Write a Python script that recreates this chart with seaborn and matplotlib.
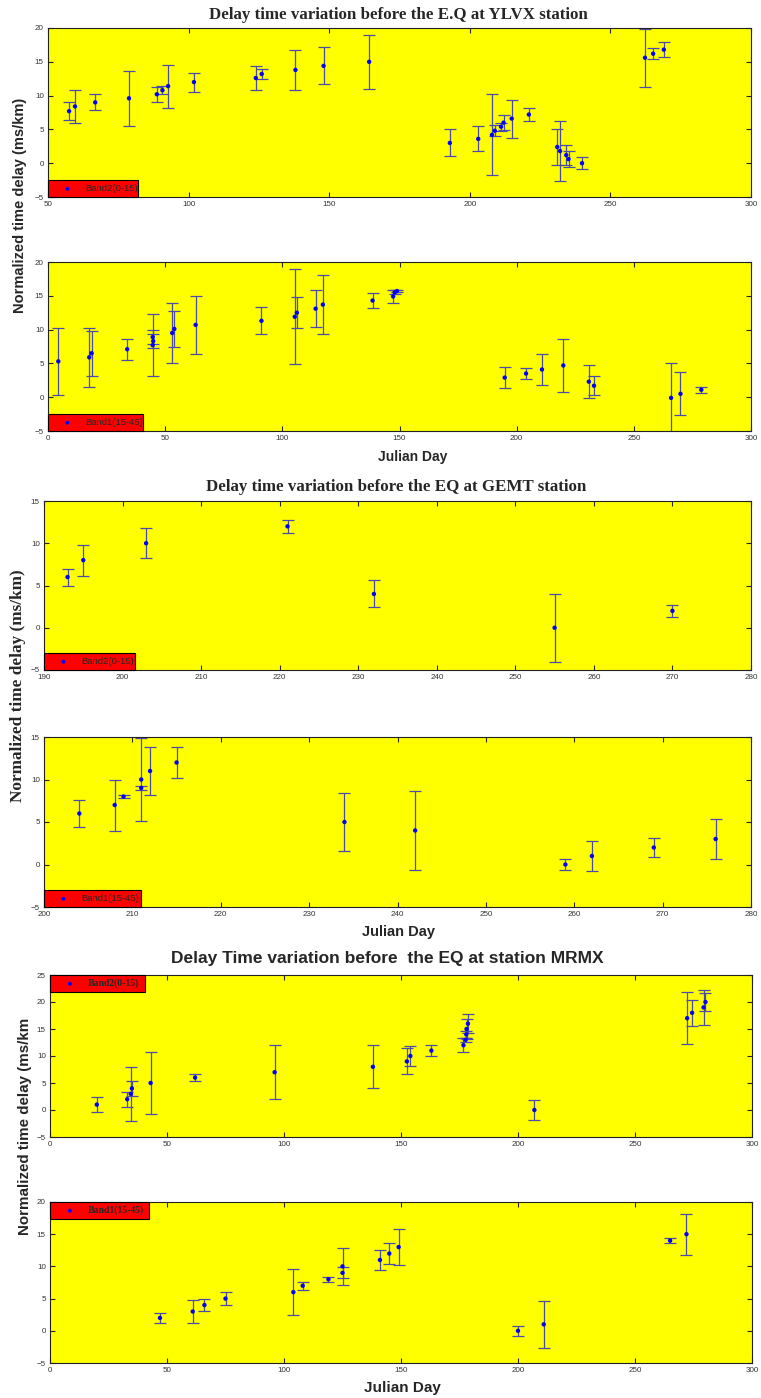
import matplotlib
matplotlib.use("Agg")
import matplotlib.pyplot as plt
import seaborn as sns

# YLVX station, Band2 (0-15)
ylvx_b2_day = [57.5, 59.6, 66.8, 78.8, 88.7, 90.7, 92.7, 101.9, 123.9, 126.0, 138.0, 148.0, 164.2,
               192.9, 203.0, 207.9, 208.9, 211.1, 212.0, 214.9, 221.0, 231.1, 232.1, 234.3, 235.1,
               239.9, 262.3, 265.2, 269.0]
ylvx_b2_val = [7.7, 8.4, 9.0, 9.6, 10.2, 10.8, 11.4, 12.0, 12.6, 13.2, 13.8, 14.4, 15.0,
               3.0, 3.6, 4.2, 4.8, 5.4, 6.0, 6.6, 7.2, 2.4, 1.8, 1.2, 0.6,
               0.0, 15.6, 16.2, 16.8]
ylvx_b2_err = [1.3, 2.4, 1.2, 4.1, 1.1, 0.6, 3.2, 1.4, 1.75, 0.8, 3.0, 2.75, 4.0,
               2.0, 1.85, 6.0, 0.8, 0.6, 1.1, 2.8, 0.95, 2.6, 4.4, 1.5, 1.2,
               0.85, 4.3, 0.8, 1.1]

# YLVX station, Band1 (15-45)
ylvx_b1_day = [4.4, 17.6, 18.6, 33.8, 44.7, 44.9, 44.7, 53.0, 53.9, 63.0, 91.1, 105.3, 106.2,
               114.2, 117.3, 138.5, 147.3, 148.0, 148.9, 194.9, 204.0, 210.8, 219.9, 230.8,
               233.0, 265.9, 269.9, 278.8]
ylvx_b1_val = [5.3, 5.9, 6.5, 7.1, 8.9, 8.3, 7.7, 9.5, 10.1, 10.7, 11.3, 11.9, 12.5,
               13.1, 13.7, 14.3, 14.9, 15.5, 15.7, 2.9, 3.5, 4.1, 4.7, 2.3,
               1.7, -0.1, 0.5, 1.1]
ylvx_b1_err = [5.0, 4.4, 3.35, 1.55, 1.05, 1.0, 4.6, 4.4, 2.6, 4.3, 2.0, 7.0, 2.25,
               2.75, 4.35, 1.05, 0.95, 0.3, 0.2, 1.5, 0.8, 2.35, 3.9, 2.4,
               1.4, 5.1, 3.2, 0.45]

# GEMT station, Band2 (0-15)
gemt_b2_day = [193, 195, 203, 221, 232, 255, 270]
gemt_b2_val = [6, 8, 10, 12, 4, 0, 2]
gemt_b2_err = [1.0, 1.85, 1.75, 0.8, 1.6, 4.0, 0.75]

# GEMT station, Band1 (15-45)
gemt_b1_day = [204, 208, 209, 211, 211, 212, 215, 234, 242, 259, 262, 269, 276]
gemt_b1_val = [6, 7, 8, 9, 10, 11, 12, 5, 4, 0, 1, 2, 3]
gemt_b1_err = [1.6, 3.0, 0.2, 0.25, 4.9, 2.8, 1.8, 3.4, 4.6, 0.6, 1.8, 1.15, 2.4]

# MRMX station, Band2 (0-15)
mrmx_b2_day = [20, 33, 34.5, 35, 43, 62, 96, 138, 152.5, 154, 163,
               176.7, 177.6, 177.9, 178.0, 178.6, 207, 272.3, 274.4, 279.3, 280.1]
mrmx_b2_val = [1, 2, 3, 4, 5, 6, 7, 8, 9, 10, 11,
               12, 13, 14, 15, 16, 0, 17, 18, 19, 20]
mrmx_b2_err = [1.4, 1.4, 5.0, 1.4, 5.65, 0.7, 5.0, 3.95, 2.4, 1.8, 1.0,
               1.3, 0.4, 0.6, 1.8, 1.7, 1.8, 4.85, 2.45, 3.2, 1.7]

# MRMX station, Band1 (15-45)
mrmx_b1_day = [47, 61, 66, 75, 104, 108, 119, 125, 125, 141, 145, 149, 200, 211, 265, 272]
mrmx_b1_val = [2, 3, 4, 5, 6, 7, 8, 9, 10, 11, 12, 13, 0, 1, 14, 15]
mrmx_b1_err = [0.8, 1.75, 1.0, 0.95, 3.6, 0.6, 0.35, 0.85, 2.85, 1.55, 1.6, 2.8, 0.8, 3.6, 0.4, 3.2]

W, H = 761, 1398
BAR = "#4a4aac"
DOT = "#0000ff"
SANS = "Liberation Sans"
SERIF = "Liberation Serif"

sns.set_style("ticks")
plt.rcParams["font.family"] = [SANS, "DejaVu Sans"]


def add_panel(fig, box, days, vals, errs, xlim, xstep, ylim, label, leg_loc, leg_w, leg_font):
    left, right, top, bottom = box
    ax = fig.add_axes([left / W, 1 - bottom / H, (right - left) / W, (bottom - top) / H])
    ax.set_facecolor("#ffff00")
    ax.errorbar(days, vals, yerr=errs, fmt="none", ecolor=BAR, elinewidth=0.9,
                capsize=4.5, capthick=0.9, zorder=2)
    sns.scatterplot(x=days, y=vals, ax=ax, color=DOT, s=10, edgecolor="none",
                    zorder=3, label=label)
    ax.set_xlim(*xlim)
    ax.set_ylim(*ylim)
    ax.set_xticks(range(xlim[0], xlim[1] + 1, xstep))
    ax.set_yticks(range(ylim[0], ylim[1] + 1, 5))
    ax.tick_params(direction="in", top=True, right=True, length=3.5, width=0.8,
                   labelsize=5.8, labelcolor="#333333", pad=3)
    for s in ax.spines.values():
        s.set_linewidth(0.8)
        s.set_color("#222222")
    leg = ax.legend(loc=leg_loc, bbox_to_anchor=(0, 0, leg_w / (right - left), 1),
                    mode="expand", borderaxespad=0, frameon=True, fancybox=False,
                    facecolor="#ff0000", edgecolor="black", framealpha=1,
                    handlelength=3.3, handletextpad=0.2, borderpad=0.4,
                    prop=leg_font, markerscale=0.9)
    leg.get_frame().set_linewidth(0.8)
    return ax


fig = plt.figure(figsize=(W / 100, H / 100), dpi=100)

sans_leg = {"family": SANS, "size": 6.8}
serif_leg = {"family": SERIF, "size": 7.0, "weight": "bold"}

# YLVX
add_panel(fig, (48, 751, 28, 197), ylvx_b2_day, ylvx_b2_val, ylvx_b2_err,
          (50, 300), 50, (-5, 20), "Band2(0-15)", "lower left", 90, sans_leg)
add_panel(fig, (48, 751, 262, 431), ylvx_b1_day, ylvx_b1_val, ylvx_b1_err,
          (0, 300), 50, (-5, 20), "Band1(15-45)", "lower left", 95, sans_leg)
fig.text(398 / W, 1 - 15 / H, "Delay time variation before the E.Q at YLVX station",
         ha="center", va="center", family=SERIF, weight="bold", fontsize=12.2)
fig.text(20 / W, 1 - 205 / H, "Normalized time delay (ms/km)", rotation=90,
         ha="center", va="center", family=SANS, weight="bold", fontsize=10.5)
fig.text(413 / W, 1 - 457 / H, "Julian Day", ha="center", va="center",
         family=SANS, weight="bold", fontsize=10)

# GEMT
add_panel(fig, (44, 751, 501, 670), gemt_b2_day, gemt_b2_val, gemt_b2_err,
          (190, 280), 10, (-5, 15), "Band2(0-15)", "lower left", 91, sans_leg)
add_panel(fig, (44, 751, 737, 907), gemt_b1_day, gemt_b1_val, gemt_b1_err,
          (200, 280), 10, (-5, 15), "Band1(15-45)", "lower left", 97, sans_leg)
fig.text(396 / W, 1 - 487 / H, "Delay time variation before the EQ at GEMT station",
         ha="center", va="center", family=SERIF, weight="bold", fontsize=12.2)
fig.text(18 / W, 1 - 686 / H, "Normalized time delay (ms/km)", rotation=90,
         ha="center", va="center", family=SERIF, weight="bold", fontsize=12.4)
fig.text(398 / W, 1 - 932 / H, "Julian Day", ha="center", va="center",
         family=SANS, weight="bold", fontsize=10.5)

# MRMX
add_panel(fig, (50, 752, 975, 1137), mrmx_b2_day, mrmx_b2_val, mrmx_b2_err,
          (0, 300), 50, (-5, 25), "Band2(0-15)", "upper left", 95, serif_leg)
add_panel(fig, (50, 752, 1202, 1363), mrmx_b1_day, mrmx_b1_val, mrmx_b1_err,
          (0, 300), 50, (-5, 20), "Band1(15-45)", "upper left", 99, serif_leg)
fig.text(387 / W, 1 - 958 / H, "Delay Time variation before  the EQ at station MRMX",
         ha="center", va="center", family=SANS, weight="bold", fontsize=12.5)
fig.text(25 / W, 1 - 1126 / H, "Normalized time delay (ms/km", rotation=90,
         ha="center", va="center", family=SANS, weight="bold", fontsize=10.9)
fig.text(402 / W, 1 - 1388 / H, "Julian Day", ha="center", va="center",
         family=SANS, weight="bold", fontsize=11)

fig.savefig("out.png", dpi=100)
